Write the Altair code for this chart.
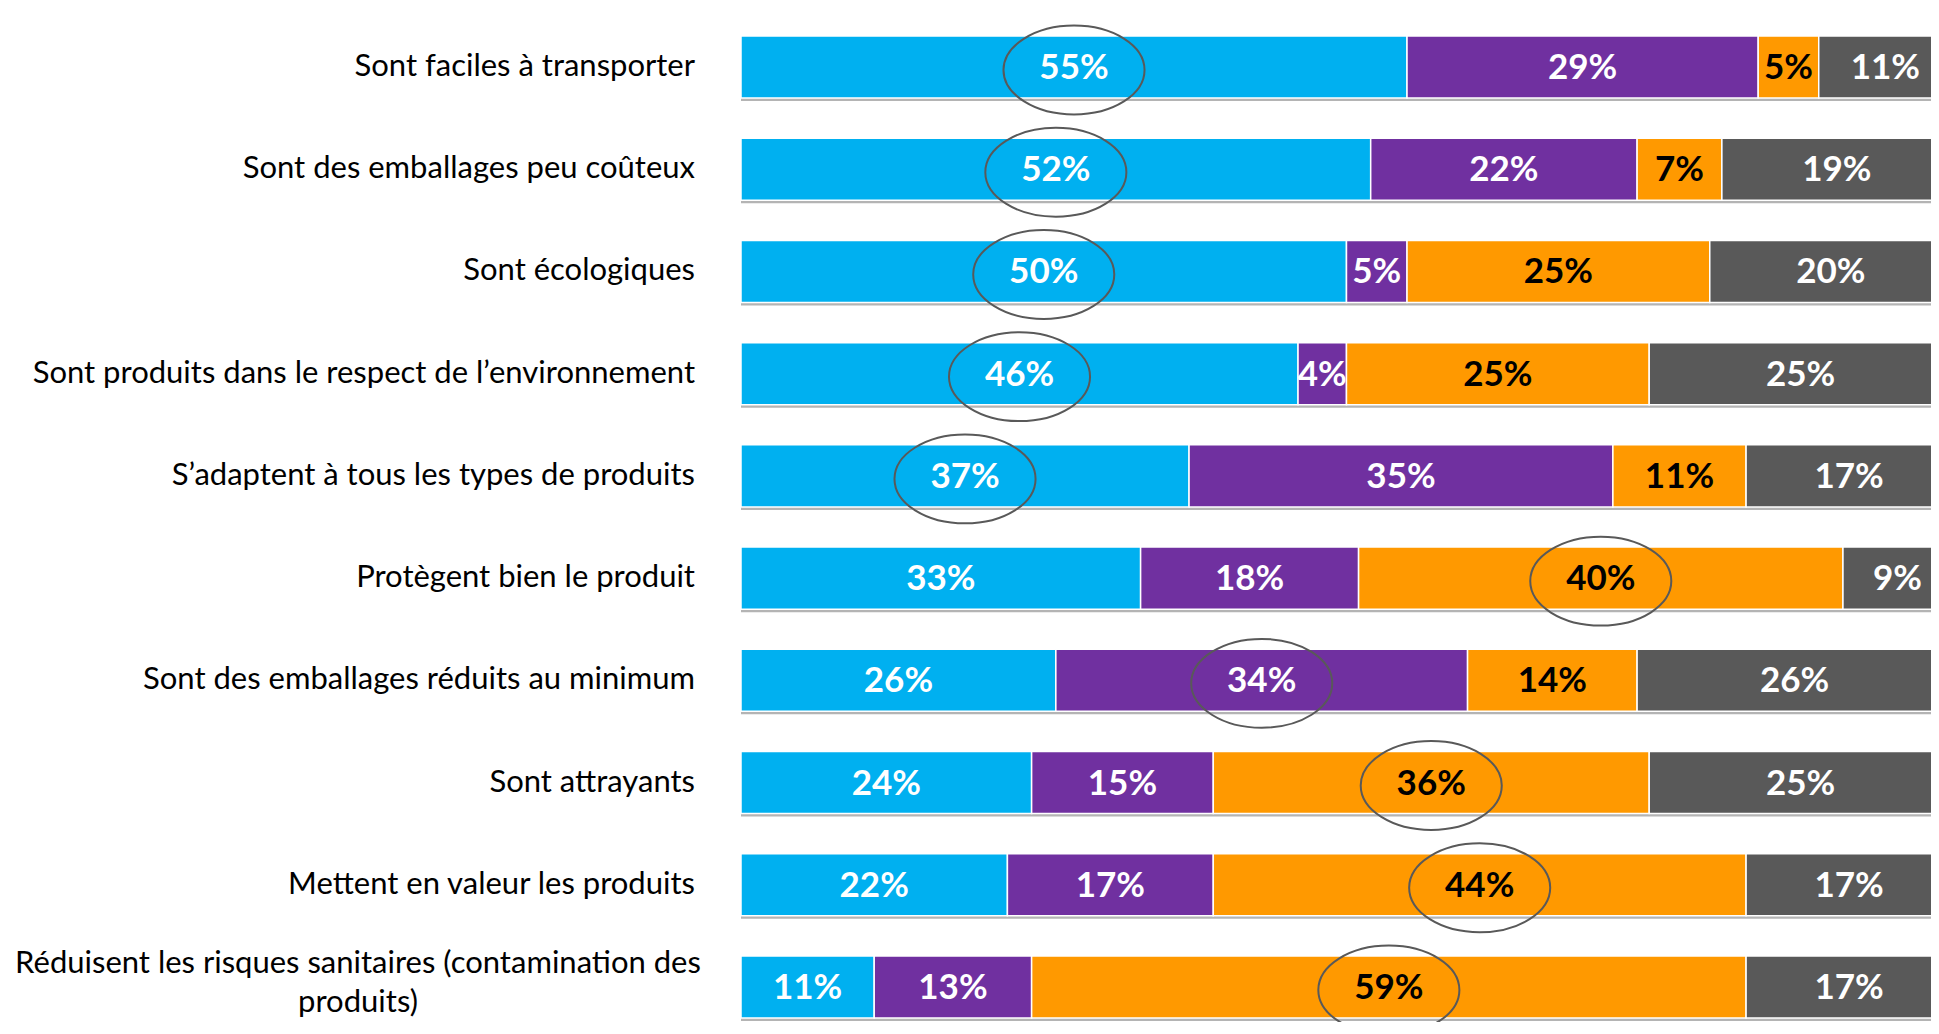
import altair as alt
import pandas as pd

categories = [
    "Sont faciles à transporter",
    "Sont des emballages peu coûteux",
    "Sont écologiques",
    "Sont produits dans le respect de l’environnement",
    "S’adaptent à tous les types de produits",
    "Protègent bien le produit",
    "Sont des emballages réduits au minimum",
    "Sont attrayants",
    "Mettent en valeur les produits",
    "Réduisent les risques sanitaires (contamination des\nproduits)",
]
series = ["Série 1", "Série 2", "Série 3", "Série 4"]
s1 = [55, 52, 50, 46, 37, 33, 26, 24, 22, 11]
s2 = [29, 22, 5, 4, 35, 18, 34, 15, 17, 13]
s3 = [5, 7, 25, 25, 11, 40, 14, 36, 44, 59]
s4 = [11, 19, 20, 25, 17, 9, 26, 25, 17, 17]
highlight = [0, 0, 0, 0, 0, 2, 1, 2, 2, 2]  # index of circled series per row

colors = ["#00B0F0", "#7030A0", "#FF9900", "#595959"]
text_colors = ["#FFFFFF", "#FFFFFF", "#000000", "#FFFFFF"]

rows = []
circles = []
cats = []
for i, cat in enumerate(categories):
    vals = [s1[i], s2[i], s3[i], s4[i]]
    start = 0
    for j, v in enumerate(vals):
        rows.append({"cat": cat, "series": series[j], "order": j, "v": v,
                     "start": start, "end": start + v, "mid": start + v / 2,
                     "label": f"{v}%", "tcolor": text_colors[j]})
        if highlight[i] == j:
            circles.append({"cat": cat, "mid": start + v / 2})
        start += v
    cats.append({"cat": cat, "zero": 0, "total": start, "multi": 1 if "\n" in cat else 0})
df = pd.DataFrame(rows)
dc = pd.DataFrame(circles)
dcat = pd.DataFrame(cats)

FONT = "Lato"
y = alt.Y("cat:N", sort=categories, axis=None,
          scale=alt.Scale(domain=categories, paddingInner=0.393, paddingOuter=0.137, align=1))
xs = alt.Scale(domain=[0, 98.27], nice=False, zero=False)

base = alt.Chart(df)

shadow = alt.Chart(dcat).mark_bar(color="#b4b4b4", yOffset=3).encode(
    y=y, x=alt.X("zero:Q", scale=xs, axis=None), x2="total:Q"
)

bars = base.mark_bar(stroke="white", strokeWidth=1.5).encode(
    y=y,
    x=alt.X("start:Q", scale=xs, axis=None),
    x2="end:Q",
    color=alt.Color("series:N", scale=alt.Scale(domain=series, range=colors), legend=None),
)

vals = base.mark_text(font=FONT, fontSize=35, fontWeight="bold", baseline="middle", align="center", dy=1).encode(
    y=y, x=alt.X("mid:Q", scale=xs, axis=None), text="label:N",
    color=alt.Color("tcolor:N", scale=None, legend=None),
)

ell = alt.Chart(dc).mark_point(
    shape="M-1,0A1,0.63,0,1,0,1,0A1,0.63,0,1,0,-1,0Z",
    size=19900, filled=False, stroke="#595959", strokeWidth=2, opacity=1, yOffset=3,
).encode(y=y, x=alt.X("mid:Q", scale=xs, axis=None))

lab1 = alt.Chart(dcat).transform_filter("datum.multi == 0").mark_text(
    font=FONT, fontSize=31, align="right", baseline="middle", color="#000000"
).encode(y=y, x=alt.value(-46), text="cat:N")

lab2 = alt.Chart(dcat).transform_filter("datum.multi == 1").mark_text(
    font=FONT, fontSize=31, align="center", baseline="middle", color="#000000",
    lineBreak="\n", lineHeight=39, dy=-23,
).encode(y=y, x=alt.value(-383), text="cat:N")

chart = alt.layer(shadow, bars, vals, ell, lab1, lab2).properties(
    width=1190, height=1010,
    autosize=alt.AutoSizeParams(type="none"),
    padding={"left": 733, "top": 0, "right": 0, "bottom": 4},
).configure_view(stroke=None)

chart.save("out.html", embed_options={"renderer": "svg", "actions": False})
